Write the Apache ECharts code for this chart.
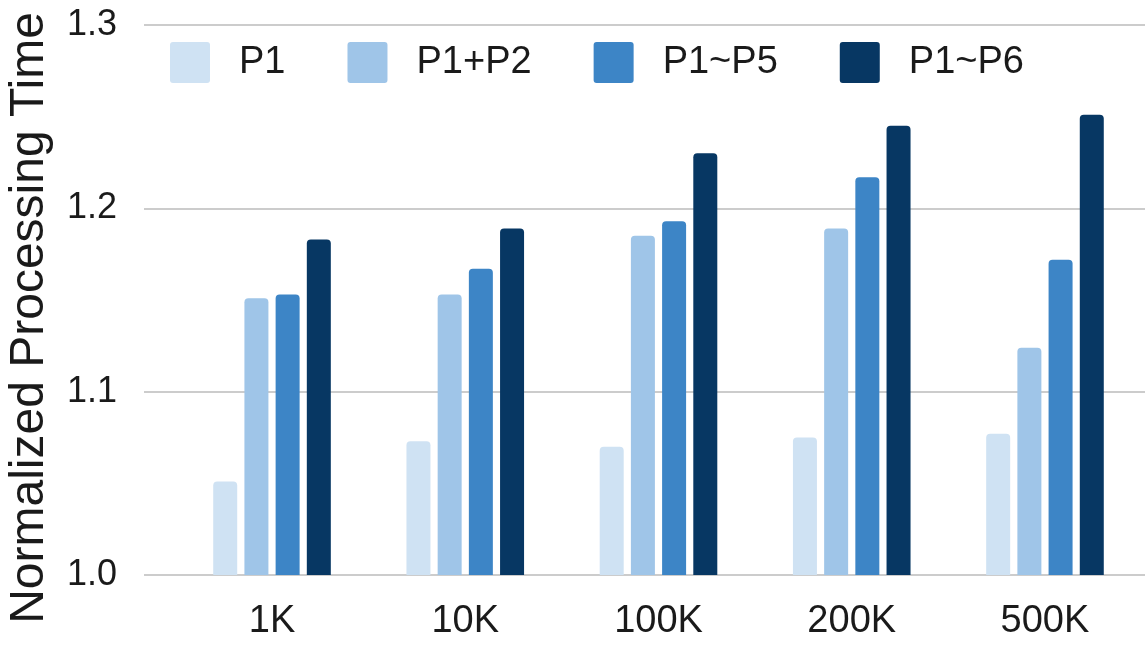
<!DOCTYPE html>
<html>
<head>
<meta charset="utf-8">
<script src="https://cdn.jsdelivr.net/npm/echarts@6/dist/echarts.min.js"></script>
<style>
  html, body { margin: 0; padding: 0; background: #fff; }
  #chart { width: 1145px; height: 646px; }
</style>
</head>
<body>
<div id="chart"></div>
<script>
// Dataset sizes on the x axis
const categories = ['1K', '10K', '100K', '200K', '500K'];

// Normalized processing time per pass combination
const seriesNames = ['P1', 'P1+P2', 'P1~P5', 'P1~P6'];
const p1 = [1.051, 1.073, 1.070, 1.075, 1.077];
const p1p2 = [1.151, 1.153, 1.185, 1.189, 1.124];
const p1p5 = [1.153, 1.167, 1.193, 1.217, 1.172];
const p1p6 = [1.183, 1.189, 1.230, 1.245, 1.251];

// Value axis range
const yMin = 1.0;
const yMax = 1.3;
const yStep = 0.1;

const colors = ['#cfe2f3', '#9fc5e8', '#3d85c6', '#073763'];
const FONT = 'Liberation Sans, Arial, sans-serif';
const values = [p1, p1p2, p1p5, p1p6];

// legend swatch: square with slightly rounded corners
const swatch = 'path://M3,0H37A3,3,0,0,1,40,3V38A3,3,0,0,1,37,41H3A3,3,0,0,1,0,38V3A3,3,0,0,1,3,0Z';

const chart = echarts.init(document.getElementById('chart'));

chart.setOption({
  animation: false,
  backgroundColor: '#ffffff',
  textStyle: { fontFamily: FONT },
  legend: {
    data: seriesNames,
    left: 170,
    top: 42,
    padding: 0,
    itemWidth: 40,
    itemHeight: 41,
    itemGap: 62,
    icon: swatch,
    textStyle: { fontSize: 38, color: '#1a1a1a', fontFamily: FONT, padding: [0, 0, 0, 24] }
  },
  graphic: [{
    type: 'text',
    x: 30,
    y: 318,
    rotation: Math.PI / 2,
    style: {
      text: 'Normalized Processing Time',
      font: '48px Liberation Sans, Arial, sans-serif',
      fill: '#1a1a1a',
      textAlign: 'center',
      textVerticalAlign: 'middle'
    }
  }],
  grid: [
    // full-width grid carrying the value axis and its gridlines
    { left: 144, right: 0, top: 25, bottom: 71, containLabel: false },
    // grid holding the bar groups
    { left: 175.4, right: 3.4, top: 25, bottom: 71, containLabel: false }
  ],
  xAxis: [
    { gridIndex: 0, type: 'value', min: 0, max: 1, show: false },
    {
      gridIndex: 1,
      type: 'category',
      data: categories,
      axisLine: { show: false },
      axisTick: { show: false },
      axisLabel: { fontSize: 38, color: '#1a1a1a', margin: 28, fontFamily: FONT }
    }
  ],
  yAxis: [
    {
      gridIndex: 0,
      type: 'value',
      min: yMin,
      max: yMax,
      interval: yStep,
      axisLine: { show: false },
      axisTick: { show: false },
      splitLine: { show: true, lineStyle: { color: '#cccccc', width: 2 } },
      axisLabel: {
        fontSize: 36,
        color: '#1a1a1a',
        margin: 27,
        fontFamily: FONT,
        formatter: v => v.toFixed(1)
      }
    },
    { gridIndex: 1, type: 'value', min: yMin, max: yMax, interval: yStep, show: false }
  ],
  series: seriesNames.map((name, i) => ({
    name: name,
    type: 'bar',
    xAxisIndex: 1,
    yAxisIndex: 1,
    data: values[i],
    barWidth: 24,
    barGap: '30%',
    itemStyle: { color: colors[i], borderRadius: [4, 4, 0, 0] }
  }))
});
</script>
</body>
</html>
